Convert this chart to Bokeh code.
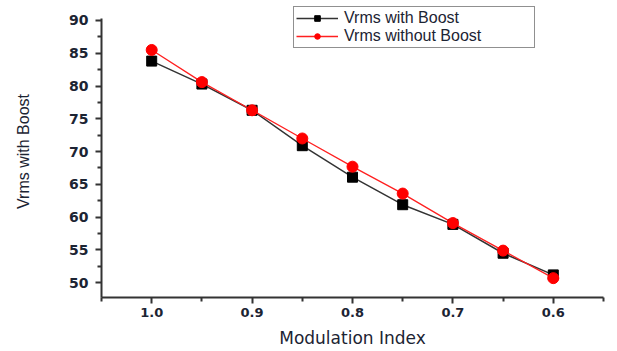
from bokeh.plotting import figure
from bokeh.models import Range1d, Legend, LegendItem, FixedTicker, PrintfTickFormatter
from bokeh.embed import file_html
from bokeh.resources import INLINE

modulation_index = [1.0, 0.95, 0.9, 0.85, 0.8, 0.75, 0.7, 0.65, 0.6]
vrms_with_boost = [83.8, 80.3, 76.3, 70.9, 66.1, 61.9, 58.9, 54.5, 51.2]
vrms_without_boost = [85.5, 80.6, 76.3, 72.0, 67.7, 63.6, 59.1, 54.9, 50.7]
x_ticks = [1.0, 0.9, 0.8, 0.7, 0.6]
y_ticks = [50, 55, 60, 65, 70, 75, 80, 85, 90]

p = figure(width=617, height=351, output_backend="svg", toolbar_location=None,
           x_range=Range1d(1.05, 0.55), y_range=Range1d(47.75, 92.28),
           min_border_left=101, min_border_right=14, min_border_top=5, min_border_bottom=54)
p.outline_line_color = None
p.xgrid.visible = False
p.ygrid.visible = False
p.background_fill_color = "white"
p.border_fill_color = "white"

for ax in (p.xaxis[0], p.yaxis[0]):
    ax.axis_line_color = "#333333"
    ax.axis_line_width = 2
    ax.major_tick_line_color = "#333333"
    ax.major_tick_line_width = 2
    ax.minor_tick_line_color = "#333333"
    ax.minor_tick_line_width = 2
    ax.major_tick_in = 0
    ax.major_tick_out = 6
    ax.minor_tick_in = 0
    ax.minor_tick_out = 4
    ax.major_label_text_font = "DejaVu Sans"
    ax.major_label_text_font_size = "14px"
    ax.major_label_text_font_style = "bold"
    ax.major_label_text_color = "#1c2433"
    ax.axis_label_text_font_style = "normal"
    ax.axis_label_text_color = "#1c2433"

p.xaxis[0].ticker = FixedTicker(ticks=x_ticks, minor_ticks=[1.05, 0.95, 0.85, 0.75, 0.65, 0.55])
p.xaxis[0].formatter = PrintfTickFormatter(format="%.1f")
p.yaxis[0].ticker = FixedTicker(ticks=y_ticks, minor_ticks=[47.5, 52.5, 57.5, 62.5, 67.5, 72.5, 77.5, 82.5, 87.5])
p.yaxis[0].bounds = (47.75, 90.3)
p.xaxis[0].major_label_standoff = 4
p.yaxis[0].major_label_standoff = 7
p.xaxis[0].major_label_text_font_size = "13px"
p.xaxis[0].axis_label = "Modulation Index"
p.xaxis[0].axis_label_text_font = "DejaVu Sans"
p.xaxis[0].axis_label_text_font_size = "17px"
p.xaxis[0].axis_label_standoff = 8
p.yaxis[0].axis_label = "Vrms with Boost"
p.yaxis[0].axis_label_text_font = "Liberation Sans"
p.yaxis[0].axis_label_text_font_size = "16px"
p.yaxis[0].axis_label_standoff = 34

l1 = p.line(modulation_index, vrms_with_boost, line_color="#333333", line_width=1.5)
s1 = p.scatter(modulation_index, vrms_with_boost, marker="square", size=10,
               fill_color="black", line_color="black")
l2 = p.line(modulation_index, vrms_without_boost, line_color="#ff2020", line_width=1.3)
s2 = p.scatter(modulation_index, vrms_without_boost, marker="circle", size=11,
               fill_color="#ff0000", line_color="#ff0000")

legend = Legend(items=[LegendItem(label="Vrms with Boost", renderers=[l1, s1]),
                       LegendItem(label="Vrms without Boost", renderers=[l2, s2])],
                location=(192, 249))
legend.label_text_font = "Liberation Sans"
legend.label_text_font_size = "16px"
legend.label_text_color = "#1c2433"
legend.glyph_width = 42
legend.glyph_height = 14
legend.label_height = 14
legend.label_standoff = 6
legend.label_width = 188
legend.spacing = 0
legend.padding = 2
legend.margin = 0
legend.border_line_color = "#222222"
legend.border_line_width = 1.5
legend.background_fill_alpha = 1
p.add_layout(legend, "center")

open("out.html", "w").write(file_html(p, INLINE))
